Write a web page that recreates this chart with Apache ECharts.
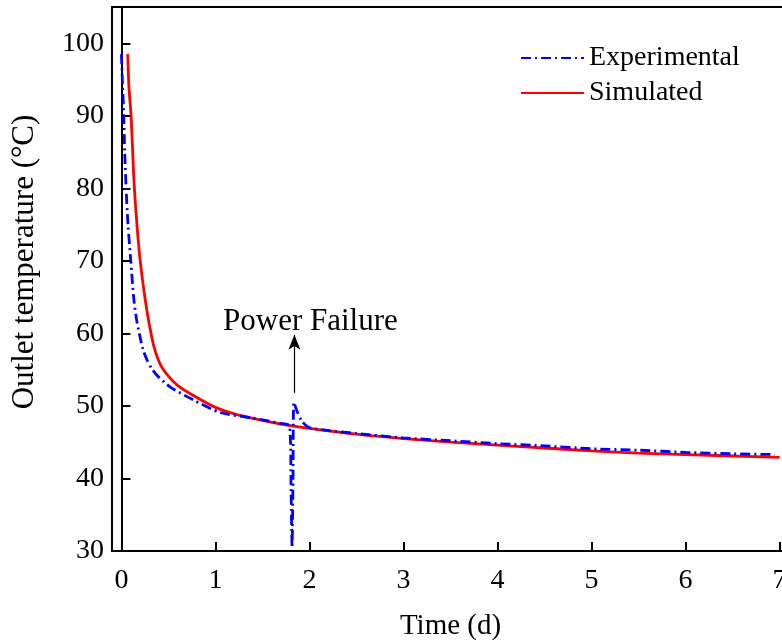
<!DOCTYPE html>
<html>
<head>
<meta charset="utf-8">
<script src="https://cdn.jsdelivr.net/npm/echarts@6/dist/echarts.min.js"></script>
<style>html,body{margin:0;padding:0;background:#fff}#c{width:782px;height:644px}</style>
</head>
<body>
<div id="c"></div>
<script>
// Experimental (blue dash-dot)
const expX = [0.0, 0.01, 0.025, 0.035, 0.05, 0.07, 0.1, 0.13, 0.16, 0.19, 0.23, 0.27, 0.32, 0.38, 0.52, 0.77, 1.05, 1.4, 1.69, 1.79, 1.805, 1.815, 1.825, 1.835, 1.87, 1.92, 2.0, 2.5, 3.0, 3.5, 4.0, 4.5, 5.0, 5.5, 6.0, 6.5, 6.95];
const expY = [98.5, 95, 90, 85, 80, 75, 70, 65, 62, 60, 57.8, 56.4, 55.2, 54.2, 52.6, 50.8, 49.1, 48.3, 47.6, 47.2, 38, 30.5, 40, 50.5, 49.2, 47.9, 47.0, 46.2, 45.6, 45.2, 44.8, 44.5, 44.1, 43.9, 43.6, 43.4, 43.3];
// Simulated (red solid)
const simX = [0.067, 0.08, 0.103, 0.12, 0.138, 0.165, 0.2, 0.255, 0.3, 0.35, 0.415, 0.5, 0.6, 0.77, 1.0, 1.2, 1.5, 1.7, 2.0, 2.5, 3.0, 3.5, 4.0, 4.5, 5.0, 5.5, 6.0, 6.5, 7.0];
const simY = [98.5, 94, 90, 85, 80, 75, 70, 64.5, 61, 58.0, 55.7, 54.1, 52.8, 51.4, 49.8, 48.9, 48.0, 47.5, 46.9, 46.1, 45.5, 45.0, 44.6, 44.2, 43.8, 43.5, 43.3, 43.1, 42.9];
const xTicks = [0, 1, 2, 3, 4, 5, 6, 7];
const yTicks = [30, 40, 50, 60, 70, 80, 90, 100];
const seriesNames = ['Experimental', 'Simulated'];
const annotText = 'Power Failure';
const arrowX = 1.84, arrowY0 = 51.8, arrowY1 = 59.8;
const annotPos = [2.01, 61.6];

const FONT = 'Liberation Serif';
const chart = echarts.init(document.getElementById('c'), null, {renderer: 'canvas'});
const pairs = (xs, ys) => xs.map((x, i) => [x, ys[i]]);

chart.setOption({
  animation: false,
  backgroundColor: '#fff',
  textStyle: {fontFamily: FONT, color: '#000'},
  grid: {left: 112, top: 7, width: 677, bottom: 93, show: true, borderColor: '#000', borderWidth: 2,
         backgroundColor: 'transparent', outerBoundsMode: 'none', containLabel: false},
  legend: {
    orient: 'vertical', left: 520, top: 44, padding: 0, itemWidth: 63, itemHeight: 14, itemGap: 7,
    itemStyle: {opacity: 0},
    textStyle: {fontFamily: FONT, fontSize: 28, color: '#000'},
    data: seriesNames
  },
  xAxis: {
    type: 'value', min: -0.1, max: 7.1,
    name: 'Time (d)', nameLocation: 'middle', nameGap: 61,
    nameTextStyle: {fontFamily: FONT, fontSize: 29, color: '#000'},
    axisLine: {lineStyle: {color: '#000', width: 2}},
    axisTick: {inside: true, length: 9, lineStyle: {color: '#000', width: 2}, customValues: xTicks},
    axisLabel: {fontFamily: FONT, fontSize: 28, color: '#000', margin: 16, customValues: xTicks},
    splitLine: {show: false}
  },
  yAxis: {
    type: 'value', min: 30, max: 105,
    name: 'Outlet temperature (°C)', nameLocation: 'middle', nameGap: 72, nameRotate: 90,
    nameTextStyle: {fontFamily: FONT, fontSize: 31, color: '#000', padding: [0, 0, 0, 34]},
    axisLine: {lineStyle: {color: '#000', width: 2}},
    axisTick: {inside: true, length: 9, lineStyle: {color: '#000', width: 2}, customValues: yTicks},
    axisLabel: {fontFamily: FONT, fontSize: 28, color: '#000', margin: 8, customValues: yTicks},
    splitLine: {show: false}
  },
  series: [
    {
      name: seriesNames[0], type: 'line', data: pairs(expX, expY), showSymbol: false, symbol: 'none',
      smooth: 0.25, z: 3,
      lineStyle: {color: '#0000ff', width: 2.8, type: [10, 4, 2, 4]},
      itemStyle: {color: '#0000ff'},
      markLine: {
        silent: true, symbol: ['none', 'arrow'], symbolSize: [9, 15],
        lineStyle: {color: '#000', width: 1.2, type: 'solid'}, label: {show: false},
        data: [[{coord: [arrowX, arrowY0]}, {coord: [arrowX, arrowY1]}]]
      },
      markPoint: {
        silent: true, symbol: 'circle', symbolSize: 0,
        label: {show: true, formatter: annotText, fontFamily: FONT, fontSize: 31, color: '#000', position: 'inside'},
        data: [{coord: annotPos}]
      }
    },
    {
      name: seriesNames[1], type: 'line', data: pairs(simX, simY), showSymbol: false, symbol: 'none',
      smooth: 0.25, z: 2,
      lineStyle: {color: '#ff0000', width: 2.8},
      itemStyle: {color: '#ff0000'}
    }
  ]
});
</script>
</body>
</html>
